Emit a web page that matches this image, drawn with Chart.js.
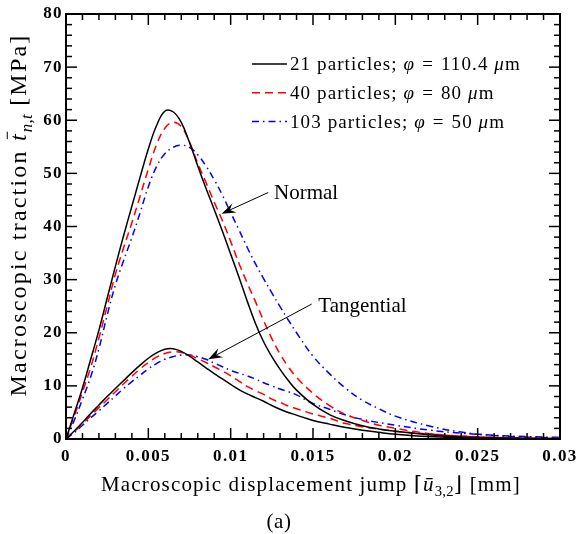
<!DOCTYPE html>
<html><head><meta charset="utf-8">
<script src="https://cdn.jsdelivr.net/npm/chart.js@4.4.1/dist/chart.umd.min.js"></script>
<style>html,body{margin:0;padding:0;background:#fff}#wrap{width:578px;height:534px;position:relative;background:#fff}</style>
</head><body><div id="wrap"><canvas id="c" width="578" height="534"></canvas></div>
<script>
// ---- data ----
const displacement = [0,0.0005,0.001,0.0015,0.002,0.0025,0.003,0.0035,0.004,0.0045,
  0.005,0.0055,0.006,0.0065,0.007,0.0075,0.008,0.0085,0.009,0.0095,
  0.01,0.0105,0.011,0.0115,0.012,0.0125,0.013,0.0135,0.014,0.015,
  0.016,0.017,0.018,0.019,0.02,0.022,0.024,0.026,0.028,0.03];
const normal21 = [0,4.8,9.6,15.0,20.5,26.5,32.5,38.3,43.8,49.3,
  54.6,59.0,61.7,61.6,59.6,55.8,51.4,47.2,43.2,39.1,
  34.8,30.5,26.0,21.8,18.3,15.5,13.1,11.0,9.2,6.5,
  4.6,3.4,2.5,1.9,1.45,0.8,0.4,0.2,0.1,0.05];
const normal40 = [0,4.3,8.8,13.5,19.0,25.0,31.0,36.0,40.7,45.7,
  50.8,55.4,58.5,59.6,58.8,55.9,51.9,48.3,44.6,41.1,
  37.2,33.1,29.4,25.9,22.3,18.9,16.0,13.6,11.6,8.6,
  6.3,4.6,3.5,2.6,2.0,1.05,0.55,0.3,0.15,0.08];
const normal103 = [0,3.5,7.5,11.7,17.0,23.3,29.0,33.6,37.9,42.6,
  47.5,51.3,53.7,54.9,55.3,54.9,53.5,51.4,48.8,45.9,
  42.6,39.4,36.1,33.0,30.2,27.5,24.9,22.4,20.0,15.6,
  12.3,9.5,7.3,5.7,4.3,2.5,1.3,0.65,0.35,0.2];
const tangential21 = [0,1.5,3.1,4.8,6.4,8.0,9.5,11.0,12.5,13.9,
  15.2,16.2,16.9,17.0,16.5,15.6,14.5,13.4,12.3,11.3,
  10.3,9.3,8.5,7.8,7.1,6.3,5.6,5.0,4.5,3.5,
  2.8,2.15,1.65,1.25,0.9,0.45,0.25,0.15,0.1,0.05];
const tangential40 = [0,1.4,2.8,4.4,5.9,7.4,8.9,10.4,11.8,13.2,
  14.4,15.4,16.1,16.4,16.3,15.8,15.1,14.4,13.6,12.8,
  11.9,10.9,9.9,9.1,8.4,7.5,6.9,6.2,5.7,4.7,
  3.9,2.9,2.3,1.85,1.45,0.95,0.55,0.3,0.15,0.08];
const tangential103 = [0,1.2,2.6,4.0,5.3,6.7,8.1,9.5,10.8,12.0,
  13.2,14.2,15.0,15.5,15.8,15.8,15.5,15.0,14.3,13.6,
  12.9,12.4,11.9,11.3,10.6,10.0,9.4,8.9,8.3,6.7,
  5.6,4.5,3.7,3.1,2.6,1.7,1.1,0.7,0.45,0.3];

const xTickValues = [0,0.005,0.01,0.015,0.02,0.025,0.03];
const yTickValues = [0,10,20,30,40,50,60,70,80];
const xMinorStep = 0.001;
const yMinorStep = 2;

const legendParticles = ['21 particles; ', '40 particles; ', '103 particles; '];
const legendDiameters = ['110.4', '80', '50'];

const annotationLabels = ['Normal', 'Tangential'];
const annotationTextAt = [[0.01263, 46.3], [0.01532, 25.0]];
const annotationTail = [[0.01228, 46.4], [0.01492, 25.4]];
const annotationTip = [[0.00945, 42.4], [0.00864, 15.0]];

// ---- styles ----
const BLACK = '#000000', RED = '#ff0000', BLUE = '#0000ff';
const DASH_RED = [8, 5], DASH_BLUE = [7, 4, 1.5, 4];
const SERIF = '"Liberation Serif", "Times New Roman", serif';

const pts = vals => displacement.map((u, i) => ({x: u, y: vals[i]}));
const line = (vals, color, dash) => ({
  data: pts(vals), borderColor: color, borderWidth: 1.5, borderDash: dash,
  pointRadius: 0, fill: false, tension: 0.4
});

function drawRuns(ctx, runs, x, y, size, align, spacing) {
  let total = 0;
  const widths = [];
  for (const r of runs) {
    const fs = r.sub ? size * 0.7 : size;
    ctx.font = (r.italic ? 'italic ' : '') + fs + 'px ' + (r.family || SERIF);
    ctx.letterSpacing = (r.sub ? 0.3 : spacing) + 'px';
    const w = ctx.measureText(r.t).width;
    widths.push(w);
    total += w + (r.pad || 0) * 2;
  }
  let cx = align === 'center' ? x - total / 2 : x;
  ctx.textAlign = 'left';
  runs.forEach((r, i) => {
    const fs = r.sub ? size * 0.7 : size;
    ctx.font = (r.italic ? 'italic ' : '') + fs + 'px ' + (r.family || SERIF);
    ctx.letterSpacing = (r.sub ? 0.3 : spacing) + 'px';
    cx += r.pad || 0;
    ctx.fillText(r.t, cx, y + (r.sub ? size * 0.25 : 0));
    if (r.bar) {
      ctx.save();
      ctx.lineWidth = 1;
      ctx.beginPath();
      const by = y - size * r.bar;
      ctx.moveTo(cx + size * 0.08, by);
      ctx.lineTo(cx + widths[i] + size * 0.02, by);
      ctx.stroke();
      ctx.restore();
    }
    cx += widths[i] + (r.pad || 0);
  });
  ctx.letterSpacing = '0px';
}

const decor = {
  id: 'decor',
  beforeDraw(chart) { chart.ctx.letterSpacing = '1.4px'; },
  afterDatasetsDraw(chart) {
    const {ctx, chartArea: a, scales: {x, y}} = chart;
    ctx.save();
    ctx.letterSpacing = '0px';
    ctx.strokeStyle = BLACK;
    ctx.fillStyle = BLACK;
    ctx.setLineDash([]);
    // frame
    ctx.lineWidth = 2;
    ctx.strokeRect(a.left, a.top, a.right - a.left, a.bottom - a.top);
    // inward ticks on all four sides
    ctx.lineWidth = 1.5;
    const seg = (x1, y1, x2, y2) => { ctx.beginPath(); ctx.moveTo(x1, y1); ctx.lineTo(x2, y2); ctx.stroke(); };
    const nx = Math.round((x.max - x.min) / xMinorStep);
    for (let i = 0; i <= nx; i++) {
      const v = x.min + i * xMinorStep;
      const major = xTickValues.some(t => Math.abs(t - v) < 1e-9);
      const L = major ? 11 : 6;
      const px = x.getPixelForValue(v);
      seg(px, a.bottom, px, a.bottom - L);
      seg(px, a.top, px, a.top + L);
    }
    const ny = Math.round((y.max - y.min) / yMinorStep);
    for (let i = 0; i <= ny; i++) {
      const v = y.min + i * yMinorStep;
      const major = yTickValues.includes(v);
      const L = major ? 11 : 6;
      const py = y.getPixelForValue(v);
      seg(a.left, py, a.left + L, py);
      seg(a.right, py, a.right - L, py);
    }
    // annotations with arrows
    ctx.lineWidth = 1;
    ctx.textBaseline = 'middle';
    annotationLabels.forEach((lab, i) => {
      const tx = x.getPixelForValue(annotationTail[i][0]), ty = y.getPixelForValue(annotationTail[i][1]);
      const hx = x.getPixelForValue(annotationTip[i][0]), hy = y.getPixelForValue(annotationTip[i][1]);
      const len = Math.hypot(hx - tx, hy - ty);
      const dx = (hx - tx) / len, dy = (hy - ty) / len;
      const nxv = -dy, nyv = dx;
      const L = 14, W = 5, notch = 9;
      seg(tx, ty, hx - dx * notch, hy - dy * notch);
      ctx.beginPath();
      ctx.moveTo(hx, hy);
      ctx.lineTo(hx - dx * L + nxv * W, hy - dy * L + nyv * W);
      ctx.lineTo(hx - dx * notch, hy - dy * notch);
      ctx.lineTo(hx - dx * L - nxv * W, hy - dy * L - nyv * W);
      ctx.closePath();
      ctx.fill();
      ctx.font = '21px ' + SERIF;
      ctx.textAlign = 'left';
      ctx.fillText(lab, x.getPixelForValue(annotationTextAt[i][0]), y.getPixelForValue(annotationTextAt[i][1]));
    });
    ctx.restore();
  },
  afterDraw(chart) {
    const {ctx, chartArea: a} = chart;
    ctx.save();
    ctx.letterSpacing = '0px';
    ctx.fillStyle = BLACK;
    ctx.strokeStyle = BLACK;
    ctx.textBaseline = 'alphabetic';
    // legend
    const ds = chart.data.datasets;
    legendParticles.forEach((p, i) => {
      const d = ds[i * 2];
      const rowY = 64 + i * 28.8;
      ctx.save();
      ctx.strokeStyle = d.borderColor;
      ctx.lineWidth = 1.5;
      ctx.setLineDash(d.borderDash || []);
      ctx.beginPath();
      ctx.moveTo(252, rowY);
      ctx.lineTo(287, rowY);
      ctx.stroke();
      ctx.restore();
      drawRuns(ctx, [
        {t: p}, {t: '\u03c6', italic: true}, {t: '=', pad: 7}, {t: legendDiameters[i] + ' '},
        {t: '\u03bc', italic: true}, {t: 'm'}
      ], 290, rowY + 6, 19, 'left', 1.1);
    });
    // x axis title
    drawRuns(ctx, [
      {t: 'Macroscopic displacement jump '}, {t: '\u2308', family: '"DejaVu Serif", serif'},
      {t: '\u016b', italic: true}, {t: '3,2', sub: true}, {t: '\u230b', family: '"DejaVu Serif", serif'},
      {t: ' [mm]'}
    ], (a.left + a.right) / 2 - 2, 491, 21, 'center', 1.15);
    // y axis title (rotated)
    ctx.save();
    ctx.translate(26, 215);
    ctx.rotate(-Math.PI / 2);
    drawRuns(ctx, [
      {t: 'Macroscopic traction '}, {t: 't', italic: true, bar: 0.78}, {t: 'n,t', italic: true, sub: true},
      {t: ' [MPa]'}
    ], 0, 0, 24, 'center', 2.2);
    ctx.restore();
    // caption
    drawRuns(ctx, [{t: '(a)'}], 279, 528, 21, 'center', 0.5);
    ctx.restore();
  }
};

new Chart(document.getElementById('c'), {
  type: 'line',
  data: {
    datasets: [
      line(normal21, BLACK, []), line(tangential21, BLACK, []),
      line(normal40, RED, DASH_RED), line(tangential40, RED, DASH_RED),
      line(normal103, BLUE, DASH_BLUE), line(tangential103, BLUE, DASH_BLUE)
    ]
  },
  options: {
    responsive: false, animation: false, devicePixelRatio: 1,
    layout: {padding: {top: 14, right: 18, left: 0, bottom: 0}},
    plugins: {legend: {display: false}, tooltip: {enabled: false}},
    scales: {
      x: {
        type: 'linear', min: 0, max: 0.03,
        afterBuildTicks: s => { s.ticks = xTickValues.map(v => ({value: v})); },
        afterFit: s => { s.height = 95; s.paddingLeft = 0; s.paddingRight = 0; },
        grid: {display: false, drawTicks: false}, border: {display: false},
        ticks: {padding: 7, color: BLACK, autoSkip: false, maxRotation: 0,
          font: {family: SERIF, weight: 'bold', size: 17}, callback: v => String(v)}
      },
      y: {
        type: 'linear', min: 0, max: 80,
        afterBuildTicks: s => { s.ticks = yTickValues.map(v => ({value: v})); },
        afterFit: s => { s.width = 66; s.paddingTop = 0; s.paddingBottom = 0; },
        grid: {display: false, drawTicks: false}, border: {display: false},
        ticks: {padding: 3, color: BLACK, font: {family: SERIF, weight: 'bold', size: 17}}
      }
    }
  },
  plugins: [decor]
});
</script></body></html>
